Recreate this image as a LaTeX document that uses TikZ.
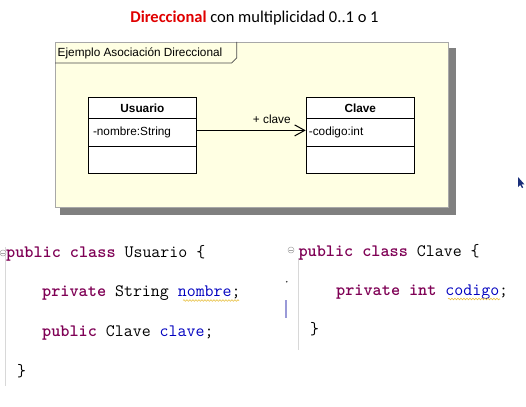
\documentclass[tikz,border=0pt]{standalone}
\usepackage{fontspec}
\setmainfont{Liberation Sans}
\newfontfamily\titlefont{Carlito}
\usetikzlibrary{arrows.meta,decorations.pathmorphing}
\definecolor{kw}{HTML}{7F0055}
\definecolor{fieldblue}{HTML}{0000C0}
\definecolor{titlered}{HTML}{E00000}
\definecolor{cream}{HTML}{FFFFE3}
\definecolor{frameedge}{HTML}{A8A8A8}
\definecolor{shadowgray}{HTML}{808080}
\definecolor{squiggle}{HTML}{E8C040}
\definecolor{gutter}{HTML}{D8D8D8}
\definecolor{cursorblue}{HTML}{1A2F7A}
\definecolor{changebar}{HTML}{9A9AD8}
\tikzset{
  umlrow/.style={draw=black, line width=0.8pt, fill=white, inner sep=0pt, anchor=north west, minimum width=#1},
  umltext/.style={font=\fontsize{11.8}{14}\selectfont, inner sep=0pt},
  codeline/.style={font=\ttfamily\fontsize{17.4}{20}\selectfont, anchor=base west, inner sep=0pt},
  warnline/.style={squiggle, line width=0.6pt, decorate, decoration={snake, amplitude=0.8pt, segment length=3pt}},
  foldmark/.style={draw=gray!70, fill=white, circle, inner sep=0pt, minimum size=6pt, line width=0.5pt},
}
\newcommand{\kwd}[1]{\textcolor{kw}{\bfseries #1}}
\begin{document}
\begin{tikzpicture}[x=1pt,y=-1pt]
\useasboundingbox (0,0) rectangle (526,406);
\fill[white] (0,0) rectangle (526,406);
% title
\node (title) at (254.5,18) {\titlefont\fontsize{16.5}{19}\selectfont\textcolor{titlered}{\bfseries Direccional} con multiplicidad 0..1 o 1};
% frame with shadow
\fill[shadowgray] (60,48) rectangle (456,215);
\node[draw=frameedge, fill=cream, line width=0.8pt, inner sep=0pt, anchor=north west, minimum width=393, minimum height=165] (frame) at (55,42) {};
\draw[draw=black!70, line width=0.7pt] (55,63) -- (231.7,63) -- (236.7,58) -- (236.7,42);
\node[umltext, anchor=west] (tablabel) at (57.5,53) {Ejemplo Asociación Direccional};
% Usuario class
\node[umlrow=107.4, minimum height=21.6] (usuName) at (88.3,96.7) {};
\node[umltext, font=\fontsize{11.8}{14}\selectfont\bfseries] at (usuName.center) {Usuario};
\node[umlrow=107.4, minimum height=27.4] (usuAttr) at (88.3,118.3) {};
\node[umltext, anchor=west] (usuAttrText) at ([xshift=4.5pt]usuAttr.west) {-nombre:String};
\node[umlrow=107.4, minimum height=27] (usuOps) at (88.3,145.7) {};
% Clave class
\node[umlrow=108.3, minimum height=21.6] (clvName) at (305.7,96.7) {};
\node[umltext, font=\fontsize{11.8}{14}\selectfont\bfseries] at (clvName.center) {Clave};
\node[umlrow=108.3, minimum height=27.4] (clvAttr) at (305.7,118.3) {};
\node[umltext, anchor=west] (clvAttrText) at ([xshift=3pt]clvAttr.west) {-codigo:int};
\node[umlrow=108.3, minimum height=27] (clvOps) at (305.7,145.7) {};
% association
\draw[line width=0.8pt, -{Straight Barb[length=10pt,width=11pt,line width=1pt]}] ([yshift=2pt]usuAttr.east) -- node[umltext, pos=0.69, above=6pt] (assocLabel) {+ clave} ([yshift=2pt]clvAttr.west);
% cursor
\fill[cursorblue] (518,177) -- (518,187) -- (520.2,184.8) -- (522,188) -- (523.2,187.4) -- (521.4,184.3) -- (524.4,184.3) -- cycle;
% left code
\draw[gutter, line width=1pt] (5,247) -- (5,386);
\node[foldmark] (foldL) at (3,253) {};
\draw[gray!70, line width=0.5pt] (1.3,253) -- (4.7,253);
\node[codeline] (l1) at (6,257.7) {\kwd{public} \kwd{class} Usuario \{};
\node[codeline] (l2) at (42,296.7) {\kwd{private} String \textcolor{fieldblue}{nombre};};
\node[codeline] (l3) at (42,336.7) {\kwd{public} Clave \textcolor{fieldblue}{clave};};
\node[codeline] (l4) at (17,376.7) {\}};
\draw[warnline] (183,300.5) -- (239,300.5);
% right code
\draw[gutter, line width=1pt] (298,258) -- (298,350);
\node[foldmark] (foldR) at (291,250) {};
\draw[gray!70, line width=0.5pt] (289.3,250) -- (292.7,250);
\fill[black!80] (286.7,281.7) circle (0.9pt);
\draw[changebar, line width=1.5pt] (286,300) -- (286,317.5);
\node[codeline] (r1) at (298.3,256) {\kwd{public} \kwd{class} Clave \{};
\node[codeline] (r2) at (336,295) {\kwd{private} \kwd{int} \textcolor{fieldblue}{codigo};};
\node[codeline] (r4) at (310,334) {\}};
\draw[warnline] (448,299) -- (500,299);
\end{tikzpicture}
\end{document}
